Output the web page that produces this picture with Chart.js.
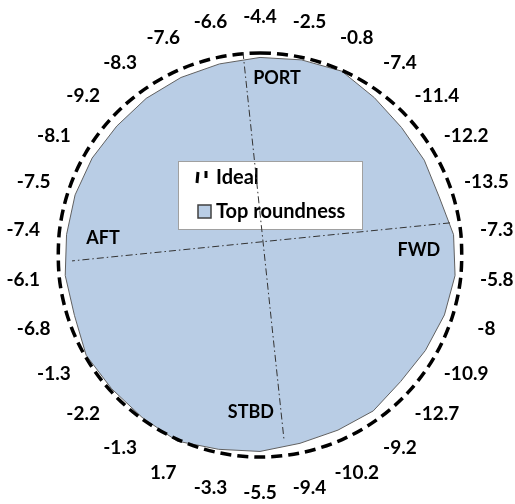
<!DOCTYPE html>
<html>
<head>
<meta charset="utf-8">
<script src="https://cdn.jsdelivr.net/npm/chart.js@4.4.1/dist/chart.umd.min.js"></script>
<style>
    html, body { margin: 0; padding: 0; background: #fff; }
    #wrap { width: 515px; height: 504px; position: relative; }
</style>
</head>
<body>
<div id="wrap"><canvas id="roundnessChart"></canvas></div>
<script>
// Deviations read clockwise from the top
const pointLabels = ['-4.4', '-2.5', '-0.8', '-7.4', '-11.4', '-12.2', '-13.5', '-7.3', '-5.8', '-8',
    '-10.9', '-12.7', '-9.2', '-10.2', '-9.4', '-5.5', '-3.3', '1.7', '-1.3', '-2.2',
    '-1.3', '-6.8', '-6.1', '-7.4', '-7.5', '-8.1', '-9.2', '-8.3', '-7.6', '-6.6'];
const topRoundness = [-4.4, -2.5, -0.8, -7.4, -11.4, -12.2, -13.5, -7.3, -5.8, -8,
    -10.9, -12.7, -9.2, -10.2, -9.4, -5.5, -3.3, 1.7, -1.3, -2.2,
    -1.3, -6.8, -6.1, -7.4, -7.5, -8.1, -9.2, -8.3, -7.6, -6.6];
const ideal = [0, 0, 0, 0, 0, 0, 0, 0, 0, 0, 0, 0, 0, 0, 0,
    0, 0, 0, 0, 0, 0, 0, 0, 0, 0, 0, 0, 0, 0, 0];
const seriesNames = ['Ideal', 'Top roundness'];
const sideNames = ['PORT', 'FWD', 'STBD', 'AFT'];

const labelFont = 'bold 18px Lato, "Open Sans", sans-serif';

// legend box, reference axes and side names drawn on top of the radar
const roundnessDecor = {
    id: 'roundnessDecor',
    afterDatasetsDraw(chart) {
        const ctx = chart.ctx;
        const r = chart.scales.r;
        const cx = r.xCenter, cy = r.yCenter, R = r.drawingArea;
        const polar = (deg, frac) => {
            const a = (deg - 90) * Math.PI / 180;
            return { x: cx + Math.cos(a) * R * frac, y: cy + Math.sin(a) * R * frac };
        };

        ctx.save();

        // legend
        const lx = cx - 82, ly = cy - 94;
        ctx.fillStyle = '#fff';
        ctx.fillRect(lx, ly, 184, 68);
        ctx.strokeStyle = '#a0a0a0';
        ctx.lineWidth = 1;
        ctx.strokeRect(lx + 0.5, ly + 0.5, 184, 68);

        ctx.strokeStyle = '#000';
        ctx.lineWidth = 3;
        ctx.beginPath();
        ctx.moveTo(lx + 20, ly + 11); ctx.lineTo(lx + 19, ly + 22);
        ctx.moveTo(lx + 28, ly + 10); ctx.lineTo(lx + 28, ly + 17);
        ctx.stroke();

        ctx.fillStyle = '#b9cde5';
        ctx.fillRect(lx + 20, ly + 44, 13, 13);
        ctx.strokeStyle = '#404040';
        ctx.lineWidth = 1.5;
        ctx.strokeRect(lx + 20, ly + 44, 13, 13);

        ctx.fillStyle = '#000';
        ctx.font = 'bold 20px Lato, "Open Sans", sans-serif';
        ctx.textAlign = 'left';
        ctx.textBaseline = 'middle';
        ctx.fillText(seriesNames[0], lx + 38, ly + 17);
        ctx.fillText(seriesNames[1], lx + 38, ly + 51);

        // dash-dot reference axes
        ctx.strokeStyle = '#333';
        ctx.lineWidth = 1;
        ctx.setLineDash([7, 3, 1.5, 3]);
        [[-4.8, 1.008, 172.6, 0.923], [80.4, 0.954, 268.2, 0.931]].forEach(l => {
            const a = polar(l[0], l[1]);
            const b = polar(l[2], l[3]);
            ctx.beginPath();
            ctx.moveTo(a.x, a.y);
            ctx.lineTo(b.x, b.y);
            ctx.stroke();
        });
        ctx.setLineDash([]);

        // side names
        ctx.font = labelFont;
        ctx.textAlign = 'center';
        ctx.fillStyle = '#000';
        [[5.5, 0.88], [88.2, 0.787], [183.3, 0.779], [276.2, 0.782]].forEach((p, i) => {
            const pos = polar(p[0], p[1]);
            ctx.fillText(sideNames[i], pos.x, pos.y);
        });

        // deviation labels around the circle
        ctx.font = 'bold 19px Lato, "Open Sans", sans-serif';
        pointLabels.forEach((t, i) => {
            const pos = r.getPointPosition(i, R + 36);
            ctx.fillText(t, pos.x, pos.y);
        });

        ctx.restore();
    }
};

const ctx = document.getElementById('roundnessChart').getContext('2d');
new Chart(ctx, {
    type: 'radar',
    data: {
        labels: pointLabels,
        datasets: [{
            label: seriesNames[0],
            data: ideal,
            borderColor: '#000',
            borderWidth: 3.5,
            borderDash: [11, 6],
            backgroundColor: 'rgba(0,0,0,0)',
            fill: false,
            pointRadius: 0,
            tension: 0.33
        }, {
            label: seriesNames[1],
            data: topRoundness,
            borderColor: '#606060',
            borderWidth: 1,
            backgroundColor: '#b9cde5',
            fill: 'start',
            pointRadius: 0,
            tension: 0
        }]
    },
    options: {
        responsive: true,
        maintainAspectRatio: false,
        animation: false,
        layout: {
            padding: { left: 58, right: 53, top: 53, bottom: 47 }
        },
        plugins: {
            legend: { display: false },
            tooltip: { enabled: false }
        },
        scales: {
            r: {
                min: -200,
                max: 0,
                ticks: { display: false },
                grid: { display: false },
                angleLines: { display: false },
                pointLabels: { display: false }
            }
        }
    },
    plugins: [roundnessDecor]
});
</script>
</body>
</html>
